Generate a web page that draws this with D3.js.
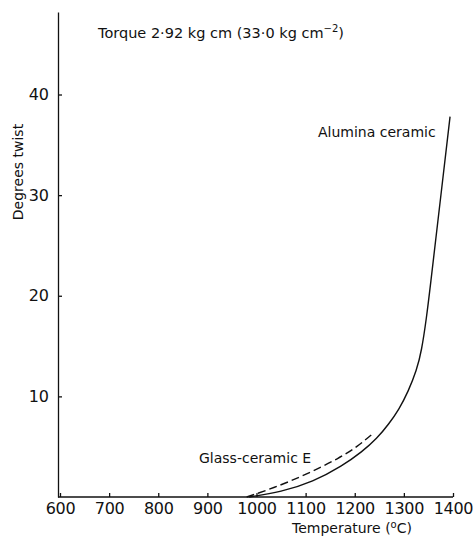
<!DOCTYPE html>
<html>
<head>
<meta charset="utf-8">
<script src="https://cdn.jsdelivr.net/npm/d3@7"></script>
<style>
  body { margin: 0; background: #fff; }
  svg text { font-family: "DejaVu Sans", sans-serif; fill: #111; }
  .axis path, .axis line { stroke: #111; stroke-width: 1.3; }
</style>
</head>
<body>
<div id="chart"></div>
<script>
// DATA
const aluminaTemp = [985, 1050, 1115, 1175, 1215, 1245, 1270, 1290, 1309, 1326, 1336, 1346, 1353, 1373, 1394];
const aluminaTwist = [0, 0.5, 1.5, 3.1, 4.5, 5.8, 7.3, 8.7, 10.5, 12.6, 14.5, 17.8, 20.6, 29.0, 37.8];
const glassTemp = [980, 1035, 1100, 1170, 1205, 1237];
const glassTwist = [0, 0.9, 2.2, 3.9, 5.0, 6.3];
const xTicks = [600, 700, 800, 900, 1000, 1100, 1200, 1300, 1400];
const yTicks = [10, 20, 30, 40];

const width = 476,
  height = 538,
  margin = { top: 12, bottom: 41, left: 58, right: 23 };

const svg = d3.select("#chart")
  .append("svg")
  .attr("width", width)
  .attr("height", height);

const xScale = d3.scaleLinear()
  .domain([600, 1400])
  .range([margin.left + 2, width - margin.right]);

const yScale = d3.scaleLinear()
  .domain([0, 48.2])
  .range([height - margin.bottom, margin.top]);

// axes, ticks pointing inward
svg.append("g")
  .attr("class", "axis x-axis")
  .attr("transform", `translate(0,${height - margin.bottom})`)
  .call(d3.axisBottom(xScale).tickValues(xTicks).tickFormat(d3.format("d"))
    .tickSize(-4).tickSizeOuter(0).tickPadding(6))
  .call(g => g.select(".domain").attr("d", `M${margin.left},0H${xScale(1400)}`))
  .selectAll("text")
  .attr("font-size", 16)
  .attr("letter-spacing", -0.3)
  .attr("font-family", "DejaVu Sans");

svg.append("g")
  .attr("class", "axis y-axis")
  .attr("transform", `translate(${margin.left},0)`)
  .call(d3.axisLeft(yScale).tickValues(yTicks).tickSize(-4).tickSizeOuter(0).tickPadding(9))
  .selectAll("text")
  .attr("font-size", 16)
  .attr("font-family", "DejaVu Sans");

// curves (smoothed through the read-off points)
const line = d3.line()
  .x(d => xScale(d[0]))
  .y(d => yScale(d[1]))
  .curve(d3.curveBasis);

svg.append("path")
  .datum(d3.zip(aluminaTemp, aluminaTwist))
  .attr("fill", "none")
  .attr("stroke", "#111")
  .attr("stroke-width", 1.4)
  .attr("d", line);

svg.append("path")
  .datum(d3.zip(glassTemp, glassTwist))
  .attr("fill", "none")
  .attr("stroke", "#111")
  .attr("stroke-width", 1.4)
  .attr("stroke-dasharray", "8,4")
  .attr("d", line);

// labels
const title = svg.append("text")
  .attr("x", 98)
  .attr("y", 38)
  .attr("font-size", 14.5);
title.append("tspan").text("Torque 2·92 kg cm (33·0 kg cm");
title.append("tspan").attr("font-size", 10).attr("dy", -6).text("−2");
title.append("tspan").attr("dy", 6).text(")");

svg.append("text")
  .attr("x", 318)
  .attr("y", 137)
  .attr("font-size", 14)
  .text("Alumina ceramic");

svg.append("text")
  .attr("x", 199)
  .attr("y", 463)
  .attr("font-size", 14)
  .text("Glass-ceramic E");

const xLabel = svg.append("text")
  .attr("x", 352)
  .attr("y", 533)
  .attr("text-anchor", "middle")
  .attr("font-size", 14);
xLabel.append("tspan").text("Temperature (");
xLabel.append("tspan").attr("font-size", 10).attr("dy", -5).text("o");
xLabel.append("tspan").attr("dy", 5).text("C)");

svg.append("text")
  .attr("transform", "translate(23,172) rotate(-90)")
  .attr("text-anchor", "middle")
  .attr("font-size", 14)
  .text("Degrees twist");
</script>
</body>
</html>
